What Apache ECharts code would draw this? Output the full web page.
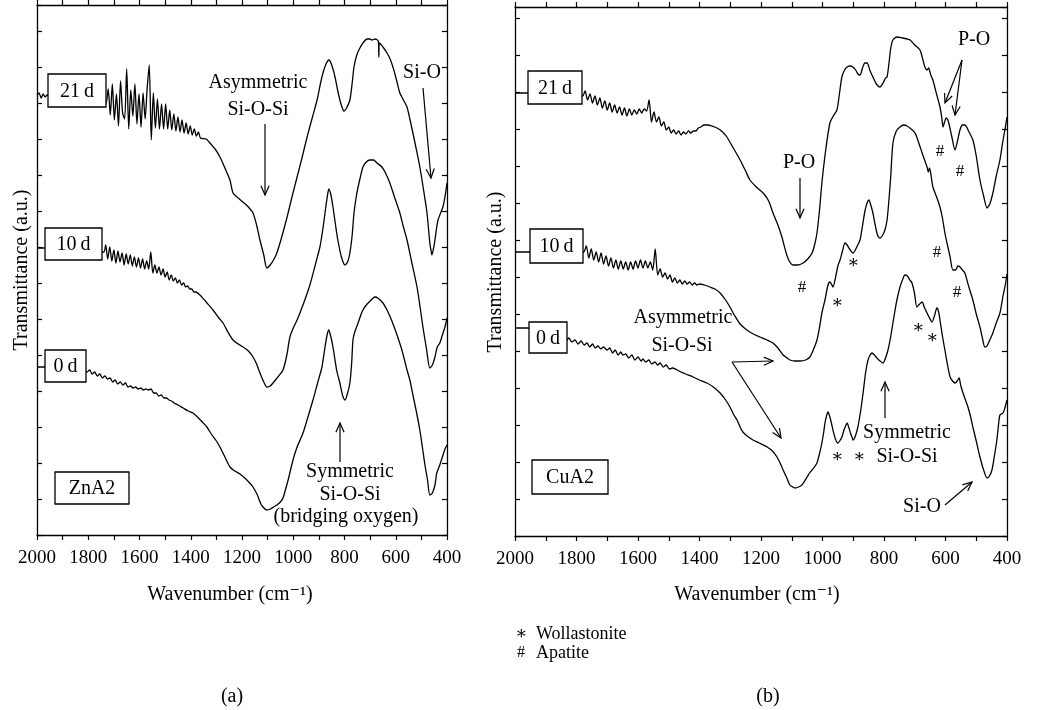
<!DOCTYPE html>
<html>
<head>
<meta charset="utf-8">
<script src="https://cdn.jsdelivr.net/npm/echarts/dist/echarts.min.js"></script>
<style>
html, body { margin: 0; padding: 0; background: #fff; }
#chart { width: 1059px; height: 710px; }
</style>
</head>
<body>
<div id="chart"></div>
<script>
// x ticks (wavenumber, cm-1)
var xTicks = [2000, 1800, 1600, 1400, 1200, 1000, 800, 600, 400];

// ZnA2 spectra [wavenumber, transmittance a.u.]
var zn21 = [[2000,440],[1992,442],[1984,437],[1976,441],[1968,438],[1960,440],[1900,440],[1800,437],
  [1738,434],[1730,432],[1722,446],[1714,420],[1706,451],[1698,415],[1690,441],[1682,409],[1674,454],[1666,422],
  [1658,416],[1650,466],[1642,406],[1634,445],[1626,419],[1618,451],[1610,411],[1602,441],[1594,408],[1586,442],
  [1578,416],[1570,447],[1562,470],[1554,395],[1546,442],[1538,407],[1530,436],[1522,406],[1514,431],[1506,406],
  [1498,431],[1490,406],[1482,425],[1474,405],[1466,421],[1458,404],[1450,418],[1442,403],[1434,415],[1426,402],
  [1418,412],[1410,401],[1402,409],[1394,400],[1386,406],[1378,399],[1370,403],[1362,397],
  [1340,396],[1325,392],[1305,386],[1286,378],[1265,366],[1247,355],[1235,342],[1215,337],[1196,333],[1175,328],
  [1157,322],[1143,310],[1130,295],[1115,280],[1103,267],[1090,270],[1077,275],[1064,282],[1045,298],[1024,318],
  [1005,338],[985,358],[965,378],[946,398],[925,418],[907,435],[895,450],[884,462],[872,471],[861,475],[850,470],
  [837,458],[827,445],[818,435],[810,428],[802,424],[792,427],[779,435],[770,452],[763,468],[752,480],[740,487],
  [725,493],[712,496],[700,496],[693,495],[680,496],[668,494],[666,478],[664,492],[650,488],[634,482],[622,476],
  [611,468],[597,455],[584,442],[570,435],[556,428],[545,416],[533,402],[520,386],[506,368],[492,346],[478,322],
  [467,292],[462,284],[459,280],[453,286],[447,295],[440,308],[435,315],[425,322],[416,328],[408,338],[400,352]];

var zn10 = [[2000,287],[1985,287],[1970,287],[1900,286],[1800,284],
  [1740,283],[1732,290],[1724,276],[1716,288],[1708,274],[1700,285],[1692,272],[1684,284],[1676,273],[1668,282],
  [1660,270],[1652,281],[1644,271],[1636,280],[1628,269],[1620,278],[1612,268],[1604,277],[1596,267],[1588,276],
  [1580,266],[1572,274],[1564,266],[1556,283],[1548,262],[1540,270],[1532,262],[1524,268],[1516,260],[1508,266],
  [1500,258],[1492,263],[1484,255],[1476,260],[1468,254],[1460,257],[1452,252],[1444,255],[1436,250],[1428,252],
  [1420,248],[1412,249],[1404,246],[1396,246],[1388,243],[1380,243],
  [1364,240],[1340,233],[1313,225],[1290,217],[1274,212],[1255,203],[1235,195],[1215,191],[1196,188],[1175,184],
  [1157,178],[1143,171],[1130,162],[1115,153],[1103,148],[1090,149],[1079,152],[1060,158],[1040,165],[1025,180],
  [1013,198],[1000,207],[985,215],[962,230],[935,250],[911,273],[896,288],[885,305],[876,322],[868,337],[861,346],
  [853,340],[845,328],[835,310],[826,295],[812,278],[798,270],[788,273],[779,282],[770,300],[763,322],[755,337],
  [747,348],[738,358],[728,368],[715,373],[701,375],[687,375],[673,372],[654,368],[640,362],[623,352],[605,338],
  [584,322],[570,308],[556,295],[537,272],[517,248],[505,228],[494,208],[480,186],[467,167],[457,170],[447,178],
  [438,188],[428,192],[418,200],[408,208],[400,217]];

var zn0 = [[2000,168],[1985,168],[1970,168],[1900,166],[1830,164],
  [1805,163],[1795,165],[1785,161],[1775,163],[1765,159],[1755,161],[1745,157],[1735,159],[1725,156],[1715,157],
  [1705,153],[1695,155],[1685,151],[1675,153],[1665,150],[1655,152],[1645,148],[1635,149],[1625,147],[1615,148],
  [1605,146],[1595,147],[1585,145],[1575,146],[1565,145],[1555,146],[1545,142],[1535,142],[1525,139],[1515,140],
  [1505,137],[1495,137],[1485,135],[1475,134],[1465,132],[1450,130],[1430,127],[1410,124],[1391,122],[1370,117],
  [1355,113],[1337,108],[1320,101],[1300,94],[1286,88],[1265,77],[1247,68],[1228,64],[1208,61],[1185,56],
  [1170,52],[1157,48],[1140,40],[1128,32],[1118,28],[1103,25],[1090,26],[1077,28],[1064,30],[1050,33],[1040,37],
  [1020,55],[1001,75],[985,88],[962,102],[945,116],[923,135],[905,152],[888,168],[876,188],[868,200],[862,205],
  [855,200],[845,188],[830,164],[818,152],[808,140],[798,135],[790,140],[779,152],[772,172],[767,195],[760,203],
  [747,212],[735,221],[728,225],[715,230],[700,234],[688,237],[681,238],[670,237],[650,232],[634,225],[615,214],
  [595,200],[575,184],[556,165],[545,155],[533,140],[520,124],[506,105],[495,86],[486,70],[476,55],[467,40],
  [457,42],[447,50],[440,62],[428,70],[418,78],[408,86],[400,90]];

// CuA2 spectra
var cu21 = [[2000,443],[1985,443],[1960,443],[1900,442],[1800,440],
  [1780,440],[1772,445],[1764,436],[1756,442],[1748,433],[1740,440],[1732,431],[1724,438],[1716,428],[1708,435],
  [1700,426],[1692,433],[1684,424],[1676,431],[1668,423],[1660,429],[1652,421],[1644,428],[1636,420],[1628,427],
  [1620,421],[1612,426],[1604,422],[1596,427],[1588,423],[1580,427],[1572,425],[1564,436],[1556,414],[1548,424],
  [1540,414],[1532,419],[1524,410],[1516,414],[1508,406],[1500,409],[1492,403],[1484,406],[1476,402],[1468,405],
  [1460,401],[1452,404],[1444,402],[1436,405],[1428,403],[1420,405],[1412,405],[1404,408],[1396,409],
  [1385,411],[1372,411],[1360,410],[1343,408],[1325,404],[1311,399],[1290,388],[1268,376],[1250,365],[1236,356],
  [1215,349],[1193,343],[1175,335],[1161,323],[1145,311],[1132,299],[1120,285],[1110,276],[1096,271],[1080,271],
  [1063,273],[1048,277],[1034,283],[1025,292],[1018,303],[1010,325],[1002,353],[990,385],[976,413],[965,420],
  [953,426],[945,442],[937,459],[928,466],[920,469],[910,470],[901,469],[892,466],[885,462],[878,461],[870,468],
  [862,473],[855,473],[845,465],[836,459],[825,452],[813,449],[803,453],[795,458],[790,459],[783,475],[778,488],
  [771,496],[758,499],[740,498],[725,497],[715,496],[700,491],[683,486],[675,478],[667,469],[660,466],[655,468],
  [648,461],[641,456],[630,443],[618,429],[612,418],[608,409],[603,414],[598,418],[592,416],[580,400],[569,386],
  [561,395],[553,406],[545,411],[537,411],[525,405],[511,396],[500,380],[488,356],[476,340],[465,328],[456,332],
  [446,343],[435,360],[423,376],[415,392],[407,406],[400,419]];

var cu10 = [[2000,284],[1985,284],[1960,284],[1900,284],[1800,283],
  [1776,284],[1768,290],[1760,278],[1752,287],[1744,276],[1736,284],[1728,274],[1720,283],[1712,272],[1704,280],
  [1696,270],[1688,278],[1680,268],[1672,276],[1664,267],[1656,275],[1648,267],[1640,274],[1632,266],[1624,274],
  [1616,267],[1608,275],[1600,268],[1592,276],[1584,268],[1576,275],[1568,268],[1560,274],[1552,266],[1544,287],
  [1536,261],[1528,267],[1520,259],[1512,263],[1504,257],[1496,261],[1488,254],[1480,258],[1472,253],[1464,256],
  [1456,252],[1448,255],[1440,252],[1432,254],[1424,251],[1416,253],[1408,251],[1400,252],
  [1385,251],[1366,249],[1350,247],[1333,243],[1315,236],[1301,229],[1285,220],[1268,212],[1246,206],[1225,202],
  [1203,199],[1180,196],[1161,193],[1145,188],[1128,181],[1115,178],[1106,176],[1090,175],[1073,175],[1055,176],
  [1041,179],[1030,186],[1018,196],[1010,208],[1002,223],[992,236],[983,250],[976,254],[971,252],[966,249],
  [958,258],[950,270],[943,276],[935,285],[927,293],[920,291],[912,287],[901,283],[895,285],[887,290],[878,296],
  [870,310],[862,325],[855,333],[849,336],[843,331],[836,323],[830,313],[823,303],[818,299],[813,298],[806,300],
  [797,306],[790,316],[784,336],[778,360],[771,393],[760,405],[748,409],[737,411],[725,410],[712,407],[699,403],
  [688,394],[676,383],[668,376],[660,369],[656,364],[652,368],[641,349],[630,340],[618,329],[610,318],[602,303],
  [593,290],[585,279],[576,266],[567,266],[560,270],[553,269],[545,266],[537,263],[525,250],[511,236],[500,222],
  [488,209],[480,198],[472,189],[465,190],[456,196],[446,203],[435,213],[423,223],[413,240],[405,252],[400,262]];

var cu0 = [[2000,208],[1985,208],[1960,208],[1900,204],[1840,198],
  [1831,196],[1825,198],[1815,194],[1805,196],[1795,192],[1785,195],[1775,191],[1766,193],[1757,189],[1748,192],
  [1739,188],[1730,190],[1721,187],[1712,189],[1701,186],[1692,188],[1683,183],[1674,186],[1665,181],[1656,184],
  [1649,181],[1640,182],[1630,178],[1620,181],[1610,176],[1600,179],[1590,175],[1584,177],[1575,174],[1565,176],
  [1555,172],[1545,174],[1536,171],[1528,173],[1518,169],[1508,171],[1498,167],[1488,168],[1473,166],[1460,164],
  [1445,162],[1421,159],[1400,156],[1376,153],[1355,149],[1333,143],[1315,136],[1301,129],[1290,122],[1278,116],
  [1268,109],[1259,104],[1245,100],[1226,96],[1205,93],[1180,89],[1163,85],[1148,79],[1138,73],[1128,66],
  [1116,58],[1106,51],[1097,49],[1089,48],[1078,49],[1067,51],[1058,55],[1050,59],[1042,63],[1034,66],[1026,69],
  [1018,73],[1010,82],[1002,93],[996,104],[992,113],[987,120],[982,124],[976,119],[971,113],[966,106],[958,97],
  [950,93],[944,95],[937,99],[930,106],[925,110],[920,113],[914,108],[908,102],[904,99],[901,96],[893,100],
  [885,109],[876,125],[868,143],[860,163],[852,176],[845,181],[839,183],[831,181],[823,178],[813,175],[803,173],
  [795,178],[787,186],[779,198],[771,213],[764,226],[758,236],[748,249],[740,256],[732,261],[724,260],[716,256],
  [709,253],[701,243],[693,229],[684,232],[676,234],[668,228],[660,223],[652,218],[644,214],[636,220],[628,228],
  [623,225],[618,216],[610,200],[602,186],[594,172],[585,159],[577,155],[569,153],[562,155],[556,158],[550,150],
  [543,143],[535,136],[527,129],[519,120],[511,109],[500,95],[488,79],[476,66],[465,58],[457,60],[449,66],
  [441,80],[433,96],[428,110],[423,121],[413,123],[407,128],[400,136]];

var FONT = '"Liberation Serif", "DejaVu Serif", serif';

function txt(x, y, s, size, align, rot) {
  return {
    type: 'text', x: x, y: y, rotation: rot || 0, z: 110,
    style: { text: s, fontFamily: FONT, fontSize: size || 20, fill: '#000',
      align: align || 'center', verticalAlign: 'middle' }
  };
}
function box(x, y, w, h, s) {
  return [
    { type: 'rect', z: 100, shape: { x: x, y: y, width: w, height: h },
      style: { fill: '#fff', stroke: '#000', lineWidth: 1.3 } },
    txt(x + w / 2, y + h / 2 + 1, s, 20)
  ];
}
function arrow(x1, y1, x2, y2) {
  var a = Math.atan2(y2 - y1, x2 - x1), L = 10, sp = 0.42;
  return [
    { type: 'line', z: 100, shape: { x1: x1, y1: y1, x2: x2, y2: y2 }, style: { stroke: '#000', lineWidth: 1.2 } },
    { type: 'polyline', z: 100, shape: { points: [
      [x2 - L * Math.cos(a - sp), y2 - L * Math.sin(a - sp)], [x2, y2],
      [x2 - L * Math.cos(a + sp), y2 - L * Math.sin(a + sp)]] },
      style: { stroke: '#000', lineWidth: 1.2, fill: null } }
  ];
}

var g = [];
// panel (a)
g = g.concat(box(48, 74, 58, 33, '21\u2009d'), box(45, 228, 57, 32, '10\u2009d'), box(45, 350, 41, 32, '0\u2009d'),
  box(55, 472, 74, 32, 'ZnA2'));
g.push(txt(258, 83, 'Asymmetric'), txt(258, 110, 'Si-O-Si'));
g = g.concat(arrow(265, 124, 265, 195));
g.push(txt(422, 73, 'Si-O'));
g = g.concat(arrow(423, 88, 431, 178));
g.push(txt(350, 472, 'Symmetric'), txt(350, 495, 'Si-O-Si'), txt(346, 517, '(bridging oxygen)'));
g = g.concat(arrow(340, 462, 340, 423));
g.push(txt(22, 270, 'Transmittance (a.u.)', 20, 'center', Math.PI / 2));
g.push(txt(230, 595, 'Wavenumber (cm\u207B\u00B9)'), txt(232, 697, '(a)'));
// panel (b)
g = g.concat(box(528, 71, 54, 33, '21\u2009d'), box(530, 229, 53, 34, '10\u2009d'), box(529, 322, 38, 31, '0\u2009d'),
  box(532, 460, 76, 34, 'CuA2'));
g.push(txt(974, 40, 'P-O'));
g = g.concat(arrow(962, 60, 945, 103), arrow(962, 60, 955, 115));
g.push(txt(799, 163, 'P-O'));
g = g.concat(arrow(800, 178, 800, 218));
[[940, 152], [960, 172], [802, 288], [937, 253], [957, 293]].forEach(function (p) { g.push(txt(p[0], p[1], '#', 17)); });
[[853, 263], [837, 303], [918, 328], [932, 338], [837, 457], [859, 457]].forEach(function (p) { g.push(txt(p[0], p[1], '\u2217', 18)); });
g.push(txt(683, 318, 'Asymmetric'), txt(682, 346, 'Si-O-Si'));
g = g.concat(arrow(732, 362, 773, 361), arrow(732, 362, 781, 438));
g.push(txt(907, 433, 'Symmetric'), txt(907, 457, 'Si-O-Si'));
g = g.concat(arrow(885, 418, 885, 382));
g.push(txt(922, 507, 'Si-O'));
g = g.concat(arrow(945, 505, 972, 482));
g.push(txt(496, 272, 'Transmittance (a.u.)', 20, 'center', Math.PI / 2));
g.push(txt(757, 595, 'Wavenumber (cm\u207B\u00B9)'), txt(768, 697, '(b)'));
g.push(txt(521, 634, '\u2217', 18), txt(536, 634, 'Wollastonite', 18, 'left'));
g.push(txt(521, 653, '#', 16), txt(536, 653, 'Apatite', 18, 'left'));

function xAx(grid, pos) {
  return {
    type: 'value', gridIndex: grid, position: pos, min: 400, max: 2000, interval: 100, inverse: true,
    axisLine: { show: true, onZero: false, lineStyle: { color: '#000', width: 1.3 } },
    axisTick: { show: true, inside: false, length: 5, lineStyle: { color: '#000', width: 1.2 } },
    axisLabel: { show: pos === 'bottom', margin: 14, color: '#000', fontFamily: FONT, fontSize: 19,
      formatter: function (v) { return xTicks.indexOf(v) >= 0 ? String(v) : ''; } },
    splitLine: { show: false }
  };
}
function yAx(grid, pos, max, step) {
  return {
    type: 'value', gridIndex: grid, position: pos, min: 0, max: max, interval: step,
    axisLine: { show: true, onZero: false, lineStyle: { color: '#000', width: 1.3 } },
    axisTick: { show: true, inside: true, length: 5, lineStyle: { color: '#000', width: 1.2 } },
    axisLabel: { show: false }, splitLine: { show: false }
  };
}
function line(data, xi, yi) {
  return { type: 'line', xAxisIndex: xi, yAxisIndex: yi, data: data, showSymbol: false, smooth: 0.25,
    lineStyle: { color: '#000', width: 1.3 }, z: 5, silent: true };
}

var chart = echarts.init(document.getElementById('chart'), null, { renderer: 'canvas' });
chart.setOption({
  animation: false,
  backgroundColor: '#fff',
  grid: [
    { left: 37, top: 5, width: 410, height: 530 },
    { left: 515, top: 7, width: 492, height: 529 }
  ],
  xAxis: [xAx(0, 'bottom'), xAx(0, 'top'), xAx(1, 'bottom'), xAx(1, 'top')],
  yAxis: [yAx(0, 'left', 530, 36), yAx(0, 'right', 530, 36), yAx(1, 'left', 529, 37), yAx(1, 'right', 529, 37)],
  series: [
    line(zn21, 0, 0), line(zn10, 0, 0), line(zn0, 0, 0),
    line(cu21, 2, 2), line(cu10, 2, 2), line(cu0, 2, 2)
  ],
  graphic: g
});
</script>
</body>
</html>
